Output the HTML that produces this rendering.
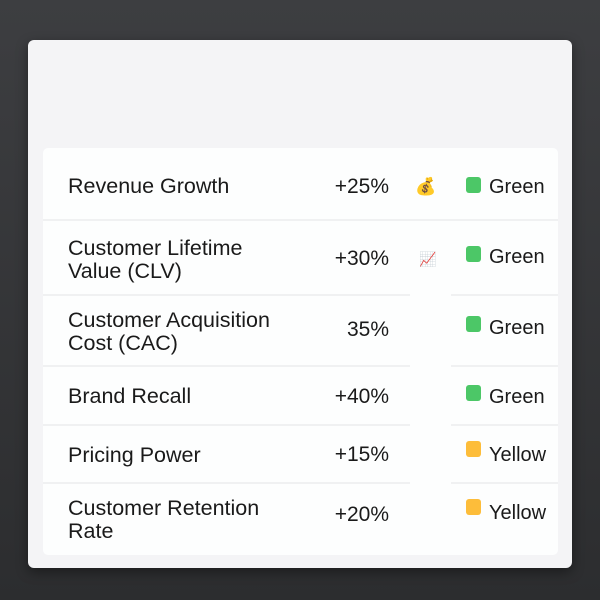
<!DOCTYPE html>
<html><head><style>
body{margin:0;width:600px;height:600px;background:linear-gradient(#3d3e41,#2c2d2f);position:relative;overflow:hidden;font-family:"Liberation Sans",sans-serif;color:#1a1a1a}
.card{position:absolute;left:28px;top:40px;width:544px;height:528px;background:#f4f4f6;border-radius:6px;box-shadow:0 4px 12px rgba(0,0,0,.4)}
.tbl{position:absolute;left:43px;top:148px;width:515px;height:407px;background:#fdfefe;border-radius:5px}
.sep{position:absolute;height:2px;background:#f0f1f2}
.t{position:absolute;font-size:21.5px;line-height:23px;white-space:nowrap}
.v{position:absolute;font-size:21px;right:211px;white-space:nowrap}
.sq{position:absolute;left:466px;width:15px;height:16px;border-radius:3px}
.g{background:#4cc767}.y{background:#fdbd3a}
.s{position:absolute;left:489px;font-size:20px}
</style></head><body>
<div class="card"></div>
<div class="tbl"></div>
<div class="sep" style="left:43px;width:515px;top:219px"></div>
<div class="sep" style="left:43px;width:367px;top:294px"></div><div class="sep" style="left:451px;width:107px;top:294px"></div>
<div class="sep" style="left:43px;width:367px;top:365px"></div><div class="sep" style="left:451px;width:107px;top:365px"></div>
<div class="sep" style="left:43px;width:367px;top:424px"></div><div class="sep" style="left:451px;width:107px;top:424px"></div>
<div class="sep" style="left:43px;width:367px;top:482px"></div><div class="sep" style="left:451px;width:107px;top:482px"></div>

<div class="t" style="left:68px;top:175px">Revenue Growth</div>
<div class="v" style="top:175px">+25%</div>
<div class="t" style="left:415px;top:175px;font-size:17px">💰</div>
<div class="sq g" style="top:177px"></div><div class="s" style="top:176px">Green</div>

<div class="t" style="left:68px;top:237px">Customer Lifetime<br>Value (CLV)</div>
<div class="v" style="top:247px">+30%</div>
<div class="t" style="left:419px;top:248px;font-size:14px">📈</div>
<div class="sq g" style="top:246px"></div><div class="s" style="top:246px">Green</div>

<div class="t" style="left:68px;top:309px">Customer Acquisition<br>Cost (CAC)</div>
<div class="v" style="top:318px">35%</div>
<div class="sq g" style="top:316px"></div><div class="s" style="top:317px">Green</div>

<div class="t" style="left:68px;top:385px">Brand Recall</div>
<div class="v" style="top:385px">+40%</div>
<div class="sq g" style="top:385px"></div><div class="s" style="top:386px">Green</div>

<div class="t" style="left:68px;top:444px">Pricing Power</div>
<div class="v" style="top:443px">+15%</div>
<div class="sq y" style="top:441px"></div><div class="s" style="top:444px">Yellow</div>

<div class="t" style="left:68px;top:497px">Customer Retention<br>Rate</div>
<div class="v" style="top:503px">+20%</div>
<div class="sq y" style="top:499px"></div><div class="s" style="top:502px">Yellow</div>
</body></html>
